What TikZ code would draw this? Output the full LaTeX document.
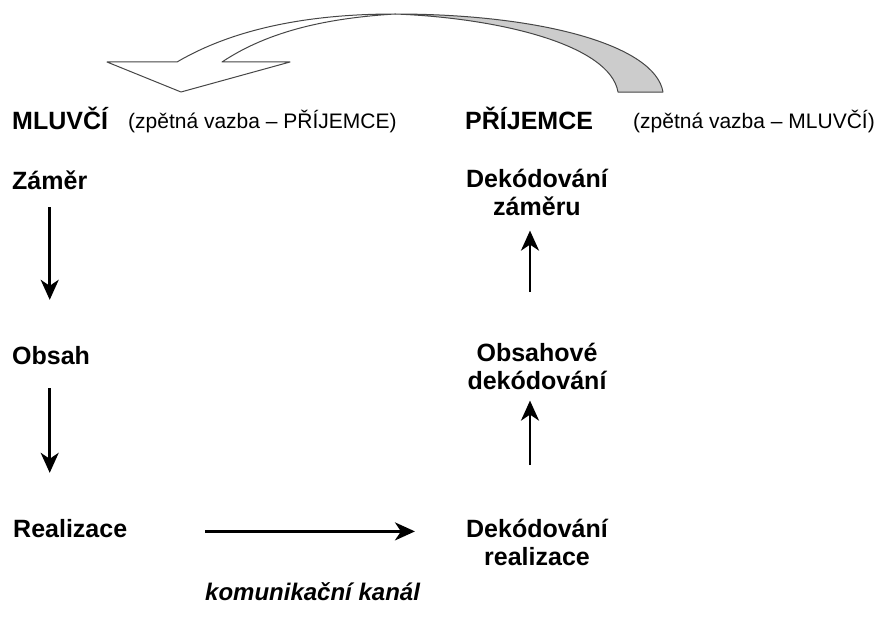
\documentclass[tikz,border=0pt]{standalone}
\usepackage{fontspec}
\setmainfont{Liberation Sans}
\usetikzlibrary{arrows.meta}
\definecolor{tailgray}{RGB}{204,204,204}
\definecolor{edgegray}{RGB}{70,70,70}
\tikzset{
  big/.style={font=\fontsize{25}{28}\selectfont\bfseries, inner sep=0pt, text height=19.6pt, text depth=8.4pt},
  multi/.style={font=\fontsize{25}{28}\selectfont\bfseries, inner sep=0pt},
  small/.style={font=\fontsize{21}{24}\selectfont, inner sep=0pt},
  arr/.style={line width=2.5pt, -{Stealth[length=20pt,width=18pt,inset=6pt]}},
  ribbon/.style={draw=edgegray, line width=1pt, line join=round}
}
\newcommand{\twoline}[2]{\begin{tabular}[t]{@{}c@{}}#1\\#2\end{tabular}}
\begin{document}
\begin{tikzpicture}[x=1pt,y=-1pt]
\useasboundingbox (0,0) rectangle (883,626);
% curved feedback arrow
\fill[tailgray] (395,14) .. controls (540,14) and (655,45) .. (663,92)
  -- (618,92) .. controls (610,45) and (500,18) .. (395,14) -- cycle;
\draw[ribbon] (395,14) .. controls (540,14) and (655,45) .. (663,92)
  -- (618,92) .. controls (610,45) and (500,18) .. (395,14);
\filldraw[ribbon, fill=white] (177,62) .. controls (240,25) and (320,14) .. (395,14)
  .. controls (330,18) and (270,30) .. (222,62)
  -- (290,62) -- (181,92) -- (107,62) -- cycle;
% headings
\node[big, anchor=base west] (mluvci) at (12,129) {MLUVČÍ};
\node[small, anchor=base west] (fbL) at (128,128) {(zpětná vazba – PŘÍJEMCE)};
\node[big, anchor=base west] (prijemce) at (465,129) {PŘÍJEMCE};
\node[small, anchor=base west] (fbR) at (633,128) {(zpětná vazba – MLUVČÍ)};
% speaker column
\node[big, anchor=base west] (zamer) at (12,189) {Záměr};
\node[big, anchor=base west] (obsah) at (12,364) {Obsah};
\node[big, anchor=base west] (realizace) at (13,537) {Realizace};
% receiver column
\node[multi, anchor=base] (dekZ) at (537,187) {\twoline{Dekódování}{záměru}};
\node[multi, anchor=base] (obsD) at (537,361) {\twoline{Obsahové}{dekódování}};
\node[multi, anchor=base] (dekR) at (537,537) {\twoline{Dekódování}{realizace}};
% channel
\node[inner sep=0pt, anchor=base west, font=\fontsize{24}{28}\selectfont\bfseries\itshape] (kanal) at (205,600) {komunikační kanál};
% arrows
\draw[arr] ([yshift=-9.6pt]zamer.south) -- ([yshift=44.4pt]obsah.north -| zamer.south);
\draw[arr] ([yshift=-15.6pt]obsah.south -| zamer.south) -- ([yshift=44.4pt]realizace.north -| zamer.south);
\draw[arr] ([xshift=78pt]realizace.east) -- ([xshift=-51pt]dekR.west |- realizace.east);
\draw[arr] ([xshift=-7pt,yshift=52pt]dekR.north) -- ([xshift=-7pt,yshift=-3pt]obsD.south);
\draw[arr] ([xshift=-7pt,yshift=49pt]obsD.north) -- ([xshift=-7pt,yshift=-7pt]dekZ.south);
\end{tikzpicture}
\end{document}
